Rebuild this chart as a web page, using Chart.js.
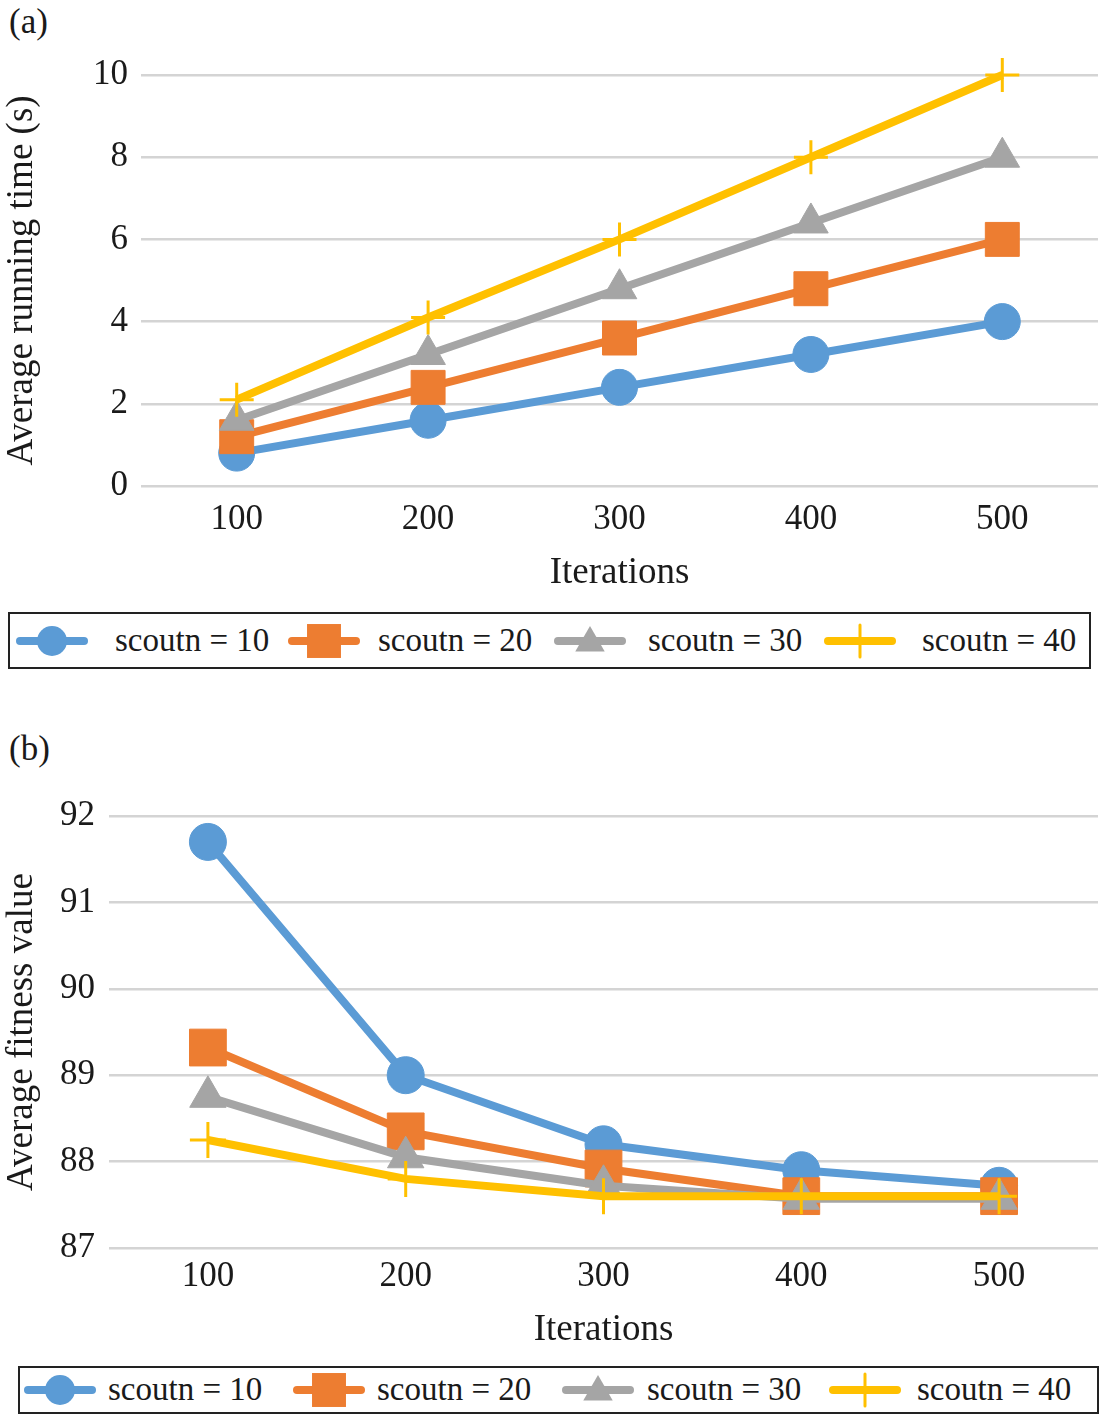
<!DOCTYPE html>
<html>
<head>
<meta charset="utf-8">
<script src="https://cdn.jsdelivr.net/npm/chart.js@4/dist/chart.umd.min.js"></script>
<style>
body { margin: 0; background: #fff; width: 1108px; height: 1417px; position: relative; overflow: hidden;
       font-family: "Liberation Serif", "Times New Roman", serif; color: #1a1a1a; }
canvas.chart { position: absolute; left: 0; }
.tag { position: absolute; font-size: 35px; line-height: 1; }
.legend { position: absolute; border: 2px solid #222; box-sizing: border-box; background: #fff; }
.item { position: absolute; top: 0; height: 100%; }
.item canvas { position: absolute; top: 50%; transform: translateY(-50%); left: 0; }
.item span { position: absolute; top: 50%; transform: translateY(-52%); white-space: nowrap; font-size: 33px; }
</style>
</head>
<body>
<div class="tag" style="left:9px;top:4px">(a)</div>
<canvas class="chart" id="chartA" width="1108" height="600" style="top:0;width:1108px;height:600px"></canvas>
<div class="legend" id="legendA" style="left:8px;top:612px;width:1083px;height:57px"></div>

<div class="tag" style="left:9px;top:731px">(b)</div>
<canvas class="chart" id="chartB" width="1108" height="660" style="top:700px;width:1108px;height:660px"></canvas>
<div class="legend" id="legendB" style="left:18px;top:1366px;width:1081px;height:48px"></div>

<script>
// chart values
const iterations = ['100', '200', '300', '400', '500'];
const seriesNames = ['scoutn = 10', 'scoutn = 20', 'scoutn = 30', 'scoutn = 40'];

const timeScout10 = [0.8, 1.6, 2.4, 3.2, 4.0];
const timeScout20 = [1.2, 2.4, 3.6, 4.8, 6.0];
const timeScout30 = [1.6, 3.2, 4.8, 6.4, 8.0];
const timeScout40 = [2.1, 4.1, 6.0, 8.0, 10.0];

const fitScout10 = [91.7, 89.0, 88.2, 87.9, 87.72];
const fitScout20 = [89.32, 88.35, 87.92, 87.6, 87.6];
const fitScout30 = [88.75, 88.05, 87.72, 87.57, 87.57];
const fitScout40 = [88.25, 87.8, 87.6, 87.6, 87.6];

const timeTicks = [0, 2, 4, 6, 8, 10];
const fitTicks = [87, 88, 89, 90, 91, 92];

const colors = ['#5B9BD5', '#ED7D31', '#A5A5A5', '#FFC000'];
const markers = ['circle', 'rect', 'triangle', 'cross'];

const FONT = '"Liberation Serif", "Times New Roman", serif';
const INK = '#1a1a1a';

// marker radius for each style, chart a / chart b
const radiusA = { circle: 18, rect: 24, triangle: 20, cross: 17 };
const radiusB = { circle: 18.5, rect: 26, triangle: 21, cross: 18 };

function buildDatasets(seriesList, radius) {
    return seriesList.map((vals, i) => ({
        label: seriesNames[i],
        data: vals,
        borderColor: colors[i],
        backgroundColor: colors[i],
        borderWidth: 8,
        pointStyle: markers[i],
        pointRadius: radius[markers[i]],
        pointBorderColor: colors[i],
        pointBackgroundColor: colors[i],
        pointBorderWidth: markers[i] === 'cross' ? 3 : 1,
        tension: 0,
        clip: false,
        order: 3 - i   // last series drawn on top, like the original
    }));
}

function makeChart(id, seriesList, ticks, yTitle, cfg) {
    const ctx = document.getElementById(id).getContext('2d');
    return new Chart(ctx, {
        type: 'line',
        data: { labels: iterations, datasets: buildDatasets(seriesList, cfg.radius) },
        options: {
            responsive: false,
            animation: false,
            layout: { autoPadding: false, padding: { top: cfg.padTop, right: 10, bottom: 0, left: 0 } },
            plugins: { legend: { display: false }, tooltip: { enabled: false } },
            scales: {
                x: {
                    offset: true,
                    grid: { display: false },
                    border: { display: false },
                    ticks: { color: INK, font: { family: FONT, size: 35 }, padding: cfg.xTickPad },
                    title: { display: true, text: 'Iterations', color: INK,
                             font: { family: FONT, size: 37 }, padding: { top: 0, bottom: cfg.xTitlePad } },
                    afterFit: s => { s.height = cfg.xHeight; }
                },
                y: {
                    min: ticks[0],
                    max: ticks[ticks.length - 1],
                    afterBuildTicks: s => { s.ticks = ticks.map(v => ({ value: v })); },
                    grid: { color: '#d4d4d4', lineWidth: 2.5, drawTicks: false },
                    border: { display: false },
                    ticks: { color: INK, font: { family: FONT, size: 35 }, padding: cfg.yTickPad },
                    title: { display: true, text: yTitle, color: INK,
                             font: { family: FONT, size: 37 }, padding: 0 },
                    afterFit: s => { s.width = cfg.yWidth; }
                }
            }
        }
    });
}

makeChart('chartA', [timeScout10, timeScout20, timeScout30, timeScout40], timeTicks,
    'Average running time (s)',
    { radius: radiusA, padTop: 75, xHeight: 114, xTickPad: 5, xTitlePad: 5, yWidth: 141, yTickPad: 13 });

makeChart('chartB', [fitScout10, fitScout20, fitScout30, fitScout40], fitTicks,
    'Average fitness value',
    { radius: radiusB, padTop: 116, xHeight: 112, xTickPad: 0, xTitlePad: 8, yWidth: 109, yTickPad: 14 });

// legend icons: a line with the series marker in the middle
function drawMarker(c, style, x, y, r, color) {
    c.fillStyle = color;
    c.strokeStyle = color;
    c.beginPath();
    if (style === 'circle') {
        c.arc(x, y, r, 0, Math.PI * 2);
        c.fill();
    } else if (style === 'rect') {
        const h = r * Math.SQRT1_2;
        c.fillRect(x - h, y - h, 2 * h, 2 * h);
    } else if (style === 'triangle') {
        c.moveTo(x, y - r);
        c.lineTo(x + r * Math.sin(Math.PI * 2 / 3), y + r / 2);
        c.lineTo(x - r * Math.sin(Math.PI * 2 / 3), y + r / 2);
        c.closePath();
        c.fill();
    } else {
        c.lineWidth = 3;
        c.moveTo(x, y - r); c.lineTo(x, y + r);
        c.stroke();
    }
}

// itemLefts: icon position inside the box, textLefts: label position inside the item
function buildLegend(id, itemLefts, textLefts, iconH, radius) {
    const box = document.getElementById(id);
    seriesNames.forEach((name, i) => {
        const item = document.createElement('div');
        item.className = 'item';
        item.style.left = itemLefts[i] + 'px';
        const cv = document.createElement('canvas');
        cv.width = 74; cv.height = iconH;
        const c = cv.getContext('2d');
        c.strokeStyle = colors[i];
        c.lineWidth = 8;
        c.lineCap = 'round';
        c.beginPath();
        c.moveTo(5, iconH / 2); c.lineTo(69, iconH / 2);
        c.stroke();
        drawMarker(c, markers[i], 37, iconH / 2 + (markers[i] === 'triangle' ? 2 : 0), radius[markers[i]], colors[i]);
        item.appendChild(cv);
        const sp = document.createElement('span');
        sp.textContent = name;
        sp.style.left = textLefts[i] + 'px';
        item.appendChild(sp);
        box.appendChild(item);
    });
}

buildLegend('legendA', [5, 277, 543, 813], [100, 91, 95, 99], 40, { circle: 15, rect: 24, triangle: 17, cross: 16 });
buildLegend('legendB', [3, 272, 541, 808], [85, 85, 86, 89], 40, { circle: 15, rect: 24, triangle: 17, cross: 16 });
</script>
</body>
</html>
